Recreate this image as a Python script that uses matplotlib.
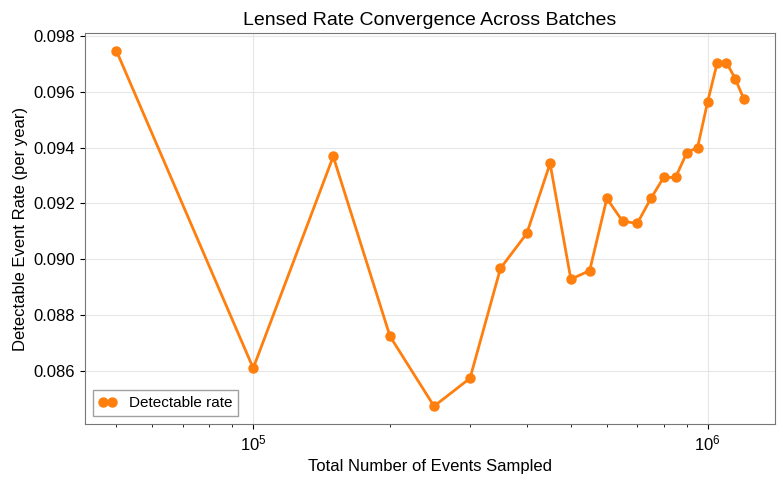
import numpy as np
import matplotlib
matplotlib.use("Agg")
import matplotlib.pyplot as plt

plt.rcParams["font.family"] = ["Liberation Sans", "DejaVu Sans"]

# total events sampled per batch checkpoint
n_events = [50000, 100000, 150000, 200000, 250000, 300000, 350000, 400000,
            450000, 500000, 550000, 600000, 650000, 700000, 750000, 800000,
            850000, 900000, 950000, 1000000, 1050000, 1100000, 1150000, 1200000]
# detectable lensed rate (per year)
rate = [0.09746, 0.08611, 0.09368, 0.08725, 0.08475, 0.08575, 0.08968, 0.09093,
        0.09343, 0.08929, 0.08960, 0.09218, 0.09136, 0.09129, 0.09218, 0.09293,
        0.09293, 0.09382, 0.09400, 0.09564, 0.09704, 0.09704, 0.09646, 0.09575]

fig, ax = plt.subplots(figsize=(7.83, 4.84), dpi=100)
ax.plot(n_events, rate, "o-", color="#ff7f0e", lw=2, ms=6.5, label="Detectable rate")
ax.set_xscale("log")
ax.set_xlabel("Total Number of Events Sampled", fontsize=12)
ax.set_ylabel("Detectable Event Rate (per year)", fontsize=12)
ax.set_title("Lensed Rate Convergence Across Batches", fontsize=14)
ax.grid(True, color="#e6e6e6", lw=0.8)
ax.tick_params(labelsize=12)
for s in ax.spines.values():
    s.set_color("#777777")
leg = ax.legend(loc="lower left", fontsize=11, fancybox=False, edgecolor="#888888",
                numpoints=2, handlelength=1.15)

fig.subplots_adjust(left=0.1086, right=0.9898, top=0.9318, bottom=0.124)
plt.savefig("out.png", dpi=100)
